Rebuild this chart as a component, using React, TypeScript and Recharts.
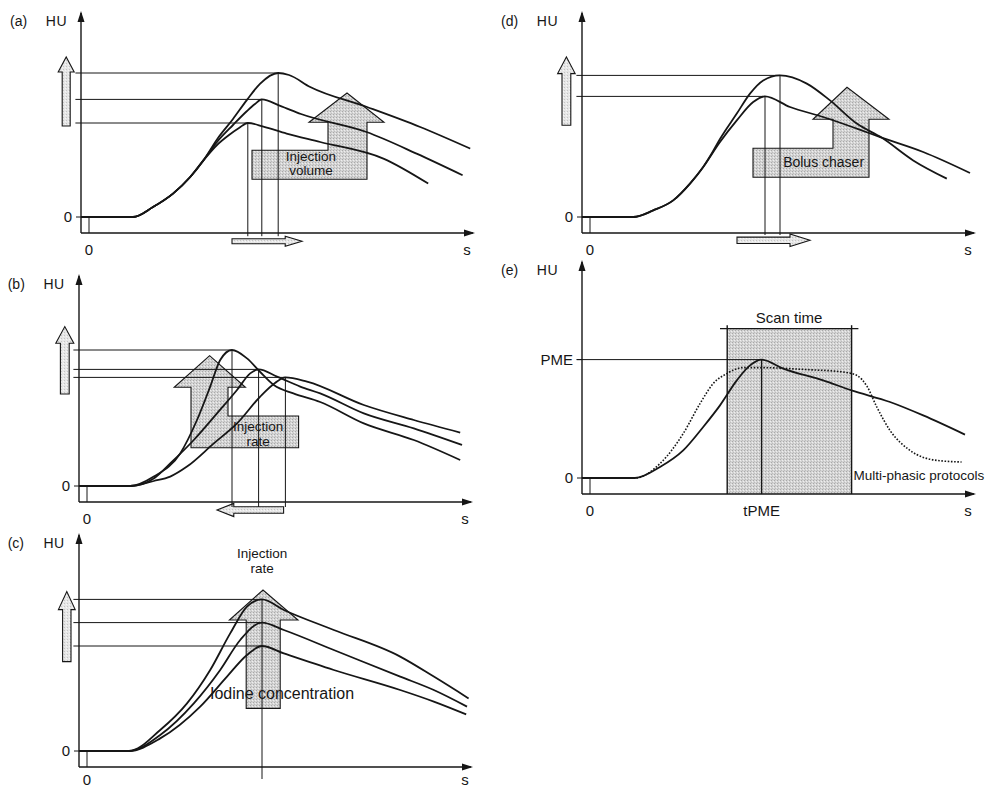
import React from "react";
import { LineChart, Line, XAxis, YAxis, ReferenceLine, ReferenceArea, ReferenceDot } from "recharts";

type Pt = [number, number];

const FONT = '"Liberation Sans", Arial, Helvetica, sans-serif';
const INK = "#161616";

// (a) injection volume: small / medium / large volume
const aLow: Pt[] = [[-2, 0], [11, 0], [16, 5], [21, 11.7], [25.3, 20], [28.6, 28.3], [32, 36], [35, 41], [37.5, 44.5], [39.7, 47], [43.6, 45.2], [49.4, 41.7], [57.8, 37.5], [73.6, 29.2], [84.8, 16.7]];
const aMid: Pt[] = [[-2, 0], [11, 0], [16, 5], [21, 11.7], [25.3, 20], [28.6, 28.3], [32, 37.5], [36, 46], [39.5, 53], [41.5, 56.5], [43.2, 58.8], [47.8, 55.6], [53, 51.5], [69.4, 42.5], [81.9, 31.7], [93.4, 20.9]];
const aHigh: Pt[] = [[-2, 0], [11, 0], [16, 5], [21, 11.7], [25.3, 20], [28.6, 28.3], [32, 38.8], [36, 49], [39.4, 58.3], [42.8, 66.7], [47.3, 72], [50, 71], [55.3, 65], [69.5, 55], [82.8, 45], [95.3, 34.2]];
const aPeaks: Pt[] = [[39.7, 47], [43.2, 58.8], [47.3, 72]];

// (b) injection rate: fast / medium / slow
const bFast: Pt[] = [[-2, 0], [10.8, 0], [16.7, 4.7], [23.3, 16.3], [27.5, 33], [30.8, 49.7], [33.3, 63], [36.25, 68], [40, 63.8], [43.3, 57], [46.7, 50.5], [51.6, 46.3], [58.3, 42], [69.2, 31.3], [81.7, 23], [93.3, 13]];
const bMid: Pt[] = [[-2, 0], [10.8, 0], [16.7, 3.8], [20.8, 11.3], [26.7, 23], [32.5, 36.3], [37.5, 48], [40.8, 56.3], [42.9, 58.3], [47.5, 54.7], [53.3, 49.7], [58.3, 46.3], [69.2, 36.3], [81.7, 28.8], [93.75, 20.5]];
const bSlow: Pt[] = [[-2, 0], [10.8, 0], [16.7, 2.5], [20.8, 4.7], [25, 9.7], [31.7, 21.3], [37.5, 31.3], [43.3, 44.7], [47, 51.5], [49.6, 54.3], [55, 52.2], [69.2, 40.5], [81.7, 33], [93.3, 26.7]];
const bPeaks: Pt[] = [[36.25, 68], [42.9, 58.3], [49.6, 54.3]];

// (c) iodine concentration
const cLow: Pt[] = [[-2, 0], [10.5, 0], [18.3, 6.3], [28.3, 22.2], [35, 37.2], [40, 48], [43.75, 52.5], [49.2, 48.8], [61.7, 40.5], [78.3, 30.5], [86.7, 24.7], [94.8, 18.3]];
const cMid: Pt[] = [[-2, 0], [10.5, 0], [18.3, 8], [26.7, 23.8], [33.3, 40.5], [38.3, 55.5], [43.75, 64.2], [49.2, 60.5], [61.7, 50.5], [78.3, 37.2], [86.7, 30.5], [95, 22.2]];
const cHigh: Pt[] = [[-2, 0], [10.5, 0], [18.3, 10.5], [25, 23.8], [30.8, 40.5], [35.8, 58.8], [40, 72.2], [43.75, 75.8], [49.2, 70.5], [61.7, 60.5], [78.3, 47.2], [86.7, 37.2], [95.4, 26.3]];
const cPeaks: Pt[] = [[43.75, 52.5], [43.75, 64.2], [43.75, 75.8]];

// (d) bolus chaser
const dNoChaser: Pt[] = [[-2, 0], [10.8, 0], [15.8, 3.3], [20.8, 8.3], [25, 16.7], [28.3, 25], [32.5, 37.5], [36.7, 48.3], [40.8, 57.5], [43.75, 60.3], [50, 55], [58.3, 50], [66.7, 44.2], [72.9, 39.7], [83.3, 32.5], [95, 22]];
const dChaser: Pt[] = [[-2, 0], [10.8, 0], [15.8, 3.3], [20.8, 8.3], [25, 16.7], [28.3, 25], [30.5, 32], [32.5, 39], [36.7, 51.7], [40, 61.7], [43.3, 68.3], [47.5, 70.8], [54.2, 66.7], [60, 58.3], [66.7, 46.7], [72.9, 39.7], [80.8, 28.3], [89.2, 19.2]];
const dPeaks: Pt[] = [[43.75, 60.3], [47.5, 70.8]];

// (e) scan timing
const eSingle: Pt[] = [[-2, 0], [11.25, 0], [17.5, 5.5], [23.3, 13.8], [28.3, 25.5], [32.5, 36.3], [36.7, 48.8], [40, 56.3], [42.9, 59.2], [48.3, 54.7], [58.3, 48.8], [65.4, 43.8], [75, 38], [83.3, 31.3], [93.75, 21.7]];
const eMulti: Pt[] = [[-2, 0], [11.25, 0], [17.5, 7.2], [23.3, 22.2], [27.5, 37.2], [30.8, 47.2], [34.2, 52.2], [38.3, 55.2], [42.5, 55.2], [54.2, 54.2], [63.3, 53], [66.7, 51.3], [69.2, 46], [71.7, 35.5], [75, 23.8], [80, 13.8], [86.7, 8.8], [92.9, 8]];
const ePME = 59.2;
const eTPME = 42.9;
const eScan: [number, number] = [34.3, 65.4];

// layout
const PX_T = 4;
const PX_HU = 2;
const X_MIN = -2;
const X_MAX = 96;
const Y_MIN = -8;
const YW = 50;
const ML = 60;
const MT = 10;
const MR = 25;
const XH = 30;
const MB = 5;

const rows = (pts: Pt[]) => pts.map(([t, hu]) => ({ t, hu }));

const STIP = "url(#stip)";
const STIP_LIGHT = "url(#stipLight)";

function upArrow(cx: number, tip: number, bottom: number, sh: number, hh: number, hl: number): Pt[] {
  const b = tip - hl;
  return [[cx - sh, bottom], [cx - sh, b], [cx - hh, b], [cx, tip], [cx + hh, b], [cx + sh, b], [cx + sh, bottom]];
}

function hArrow(from: number, to: number, cy: number, sh: number, hh: number, hl: number): Pt[] {
  const dir = to > from ? 1 : -1;
  const b = to - dir * hl;
  return [[from, cy - sh], [b, cy - sh], [b, cy - hh], [to, cy], [b, cy + hh], [b, cy + sh], [from, cy + sh]];
}

function poly(key: string, pts: Pt[], fill: string) {
  const xs = pts.map((p) => p[0]);
  const ys = pts.map((p) => p[1]);
  const x1 = Math.min(...xs), x2 = Math.max(...xs), y1 = Math.min(...ys), y2 = Math.max(...ys);
  const shape = (p: any) => {
    const sx = (t: number) => p.x + ((t - x1) / (x2 - x1)) * p.width;
    const sy = (v: number) => p.y + ((y2 - v) / (y2 - y1)) * p.height;
    const d = pts.map(([t, v], i) => `${i ? "L" : "M"}${sx(t).toFixed(1)},${sy(v).toFixed(1)}`).join(" ") + " Z";
    return <path d={d} fill={fill} stroke={INK} strokeWidth={1.1} strokeLinejoin="miter" />;
  };
  return <ReferenceArea key={key} x1={x1} x2={x2} y1={y1} y2={y2} ifOverflow="visible" shape={shape} />;
}

function seg(key: string, a: Pt, b: Pt, w = 1) {
  return (
    <ReferenceLine
      key={key}
      segment={[{ x: a[0], y: a[1] }, { x: b[0], y: b[1] }]}
      stroke={INK}
      strokeWidth={w}
      ifOverflow="visible"
    />
  );
}

function label(key: string, t: number, hu: number, text: string, size = 14, anchor: "middle" | "start" = "middle") {
  const shape = (p: any) => (
    <text x={p.cx} y={p.cy} textAnchor={anchor} dominantBaseline="central" fontSize={size} fontFamily={FONT} fill={INK}>
      {text}
    </text>
  );
  return <ReferenceDot key={key} x={t} y={hu} r={1} ifOverflow="visible" shape={shape} />;
}

function peakGuides(prefix: string, peaks: Pt[], bottom: number) {
  const out: React.ReactNode[] = [];
  peaks.forEach(([t, hu], i) => {
    out.push(seg(`${prefix}h${i}`, [-3.4, hu], [t, hu]));
    out.push(seg(`${prefix}v${i}`, [t, hu], [t, bottom]));
  });
  return out;
}

type PanelProps = {
  letter: string;
  t0px: number;
  hu0px: number;
  yTop: number;
  headShift?: number;
  xTickMargin?: number;
  curves: { pts: Pt[]; dashed?: boolean }[];
  xTicks: number[];
  xLabels: string[];
  yTicks: number[];
  yLabels: string[];
  under: React.ReactNode[];
  over: React.ReactNode[];
};

function Panel({ letter, t0px, hu0px, yTop, headShift = 0, xTickMargin = 5, curves, xTicks, xLabels, yTicks, yLabels, under, over }: PanelProps) {
  const width = ML + (X_MAX - X_MIN) * PX_T + MR;
  const height = MT + (yTop - Y_MIN) * PX_HU + XH + MB;
  const left = t0px + X_MIN * PX_T - ML;
  const top = hu0px - yTop * PX_HU - MT;
  const axisPx = t0px + X_MIN * PX_T;
  const tipPy = hu0px - yTop * PX_HU;
  const head: React.CSSProperties = {
    position: "absolute",
    top: tipPy + 1,
    fontFamily: FONT,
    fontSize: 14,
    lineHeight: "14px",
    color: INK,
  };
  const fmtX = (v: number) => xLabels[xTicks.indexOf(v)] ?? "";
  const fmtY = (v: number) => yLabels[yTicks.indexOf(v)] ?? "";
  return (
    <>
      <div style={{ ...head, left: axisPx - 71 + headShift }}>({letter})</div>
      <div style={{ ...head, left: axisPx - 48 + headShift, width: 34, textAlign: "right", letterSpacing: 0.5 }}>HU</div>
      <div style={{ position: "absolute", left, top }}>
        <LineChart width={width} height={height} margin={{ top: MT, right: MR, bottom: MB, left: ML - YW }}>
          <XAxis
            type="number"
            dataKey="t"
            domain={[X_MIN, X_MAX]}
            allowDataOverflow
            ticks={xTicks}
            interval={0}
            tickFormatter={fmtX}
            height={XH}
            tickLine={false}
            tickSize={6}
            tickMargin={xTickMargin}
            axisLine={{ stroke: INK, strokeWidth: 1.4 }}
            tick={{ fill: INK, fontSize: 15, fontFamily: FONT }}
          />
          <YAxis
            type="number"
            domain={[Y_MIN, yTop]}
            allowDataOverflow
            ticks={yTicks}
            interval={0}
            tickFormatter={fmtY}
            width={YW}
            tickSize={5}
            tickMargin={4}
            tickLine={{ stroke: INK, strokeWidth: 1 }}
            axisLine={{ stroke: INK, strokeWidth: 1.4 }}
            tick={{ fill: INK, fontSize: 15, fontFamily: FONT }}
          />
          {under}
          {seg("start", [0, 0], [0, Y_MIN])}
          {curves.map((c, i) => (
            <Line
              key={`c${i}`}
              data={rows(c.pts)}
              dataKey="hu"
              type="monotone"
              stroke={INK}
              strokeWidth={c.dashed ? 1.6 : 1.8}
              strokeDasharray={c.dashed ? "1.6 1.6" : undefined}
              dot={false}
              activeDot={false}
              isAnimationActive={false}
            />
          ))}
          {over}
          <ReferenceDot
            x={X_MAX}
            y={Y_MIN}
            r={1}
            ifOverflow="visible"
            shape={(p: any) => (
              <path d={`M${p.cx + 2},${p.cy} L${p.cx - 9},${p.cy - 3.5} L${p.cx - 9},${p.cy + 3.5} Z`} fill={INK} />
            )}
          />
          <ReferenceDot
            x={X_MIN}
            y={yTop}
            r={1}
            ifOverflow="visible"
            shape={(p: any) => (
              <path d={`M${p.cx},${p.cy - 2} L${p.cx - 3.5},${p.cy + 9} L${p.cx + 3.5},${p.cy + 9} Z`} fill={INK} />
            )}
          />
        </LineChart>
      </div>
    </>
  );
}

export default function App() {
  const panelA = (
    <Panel
      letter="a"
      t0px={89}
      hu0px={216.7}
      yTop={102}
      curves={[{ pts: aLow }, { pts: aMid }, { pts: aHigh }]}
      xTicks={[0, 94.5]}
      xLabels={["0", "s"]}
      yTicks={[0]}
      yLabels={["0"]}
      under={[
        poly("big", [[40.75, 33.35], [59.75, 33.35], [59.75, 47.35], [55, 47.35], [64.5, 62], [73.75, 47.35], [69.5, 47.35], [69.5, 18.85], [40.75, 18.85]], STIP),
        poly("left", upArrow(-5.7, 80, 45.5, 1.0, 2.0, 7.5), STIP_LIGHT),
        poly("bottom", hArrow(35.75, 53.25, -12.15, 1.25, 2.5, 4.2), STIP_LIGHT),
      ]}
      over={[
        ...peakGuides("a", aPeaks, -9.6),
        label("t1", 55.5, 30.4, "Injection", 13.5),
        label("t2", 55.5, 23.1, "volume", 13.5),
      ]}
    />
  );

  const panelB = (
    <Panel
      letter="b"
      t0px={86.7}
      hu0px={486}
      yTop={105}
      curves={[{ pts: bFast }, { pts: bMid }, { pts: bSlow }]}
      xTicks={[0, 94.5]}
      xLabels={["0", "s"]}
      yTicks={[0]}
      yLabels={["0"]}
      under={[
        poly("big", [[26, 19.15], [26, 49.35], [21.8, 49.35], [30.65, 65.15], [39.6, 49.35], [35.25, 49.35], [35.25, 35], [52.9, 35], [52.9, 19.15]], STIP),
        poly("left", upArrow(-5.55, 79.7, 46, 1.1, 2.25, 8.3), STIP_LIGHT),
        poly("bottom", hArrow(49.15, 32.5, -12, 1.6, 3.3, 4.2), STIP_LIGHT),
      ]}
      over={[
        ...peakGuides("b", bPeaks, -10.5),
        label("t1", 42.8, 30, "Injection", 13.5),
        label("t2", 42.8, 22.2, "rate", 13.5),
      ]}
    />
  );

  const panelC = (
    <Panel
      letter="c"
      t0px={86.7}
      hu0px={751}
      yTop={108}
      xTickMargin={1}
      curves={[{ pts: cLow }, { pts: cMid }, { pts: cHigh }]}
      xTicks={[0, 94.5]}
      xLabels={["0", "s"]}
      yTicks={[0]}
      yLabels={["0"]}
      under={[
        poly("big", [[39.8, 21.3], [39.8, 65.5], [35.6, 65.5], [44, 80.5], [52.75, 65.5], [48.3, 65.5], [48.3, 21.3]], STIP),
        poly("left", upArrow(-5.05, 79.7, 44.7, 1.05, 2.1, 9), STIP_LIGHT),
      ]}
      over={[
        ...cPeaks.map(([t, hu], i) => seg(`h${i}`, [-3.4, hu], [t, hu])),
        seg("v", [43.75, 75.8], [43.75, -14]),
        label("t1", 43.8, 98.6, "Injection", 13.5),
        label("t2", 43.8, 91.2, "rate", 13.5),
        label("t3", 48.75, 29, "Iodine concentration", 16),
      ]}
    />
  );

  const panelD = (
    <Panel
      letter="d"
      t0px={590}
      hu0px={216.7}
      yTop={102}
      headShift={-10}
      curves={[{ pts: dNoChaser }, { pts: dChaser }]}
      xTicks={[0, 94.5]}
      xLabels={["0", "s"]}
      yTicks={[0]}
      yLabels={["0"]}
      under={[
        poly("big", [[40.75, 34.35], [60.75, 34.35], [60.75, 48.85], [55.75, 48.85], [64.25, 64.85], [74.75, 48.85], [69.75, 48.85], [69.75, 19.85], [40.75, 19.85]], STIP),
        poly("left", upArrow(-5.9, 80, 45.85, 1.1, 2.2, 8.3), STIP_LIGHT),
        poly("bottom", hArrow(36.75, 55, -11.65, 1.6, 3.15, 5), STIP_LIGHT),
      ]}
      over={[...peakGuides("d", dPeaks, -9), label("t1", 58.4, 27.3, "Bolus chaser")]}
    />
  );

  const panelE = (
    <Panel
      letter="e"
      t0px={590}
      hu0px={477.7}
      yTop={108}
      headShift={-10}
      curves={[{ pts: eMulti, dashed: true }, { pts: eSingle }]}
      xTicks={[0, eTPME, 94.5]}
      xLabels={["0", "tPME", "s"]}
      yTicks={[0, ePME]}
      yLabels={["0", "PME"]}
      under={[
        <ReferenceArea key="scan" x1={eScan[0]} x2={eScan[1]} y1={Y_MIN} y2={74.7} fill={STIP} fillOpacity={1} stroke="none" ifOverflow="visible" />,
      ]}
      over={[
        seg("l", [eScan[0], Y_MIN], [eScan[0], 76.4], 1.4),
        seg("r", [eScan[1], Y_MIN], [eScan[1], 76.4], 1.4),
        seg("top", [32.5, 74.7], [67.1, 74.7], 1.2),
        seg("pme", [-3.4, ePME], [eTPME, ePME]),
        seg("tpme", [eTPME, ePME], [eTPME, Y_MIN], 1.3),
        label("t1", 49.75, 80.5, "Scan time", 15),
        label("t2", 65.9, 1.4, "Multi-phasic protocols", 13.5, "start"),
      ]}
    />
  );

  return (
    <div style={{ position: "absolute", left: 0, top: 0, width: 995, height: 789, background: "#fff", overflow: "hidden" }}>
      <svg width={0} height={0} style={{ position: "absolute" }}>
        <defs>
          <pattern id="stip" width={3} height={3} patternUnits="userSpaceOnUse">
            <rect width={3} height={3} fill="#d4d4d4" />
            <rect x={0} y={0} width={1} height={1} fill="#a9a9a9" />
            <rect x={2} y={1} width={1} height={1} fill="#eeeeee" />
            <rect x={1} y={2} width={1} height={1} fill="#bcbcbc" />
          </pattern>
          <pattern id="stipLight" width={3} height={3} patternUnits="userSpaceOnUse">
            <rect width={3} height={3} fill="#e6e6e6" />
            <rect x={0} y={0} width={1} height={1} fill="#c4c4c4" />
            <rect x={2} y={1} width={1} height={1} fill="#f7f7f7" />
          </pattern>
        </defs>
      </svg>
      {panelA}
      {panelB}
      {panelC}
      {panelD}
      {panelE}
    </div>
  );
}
